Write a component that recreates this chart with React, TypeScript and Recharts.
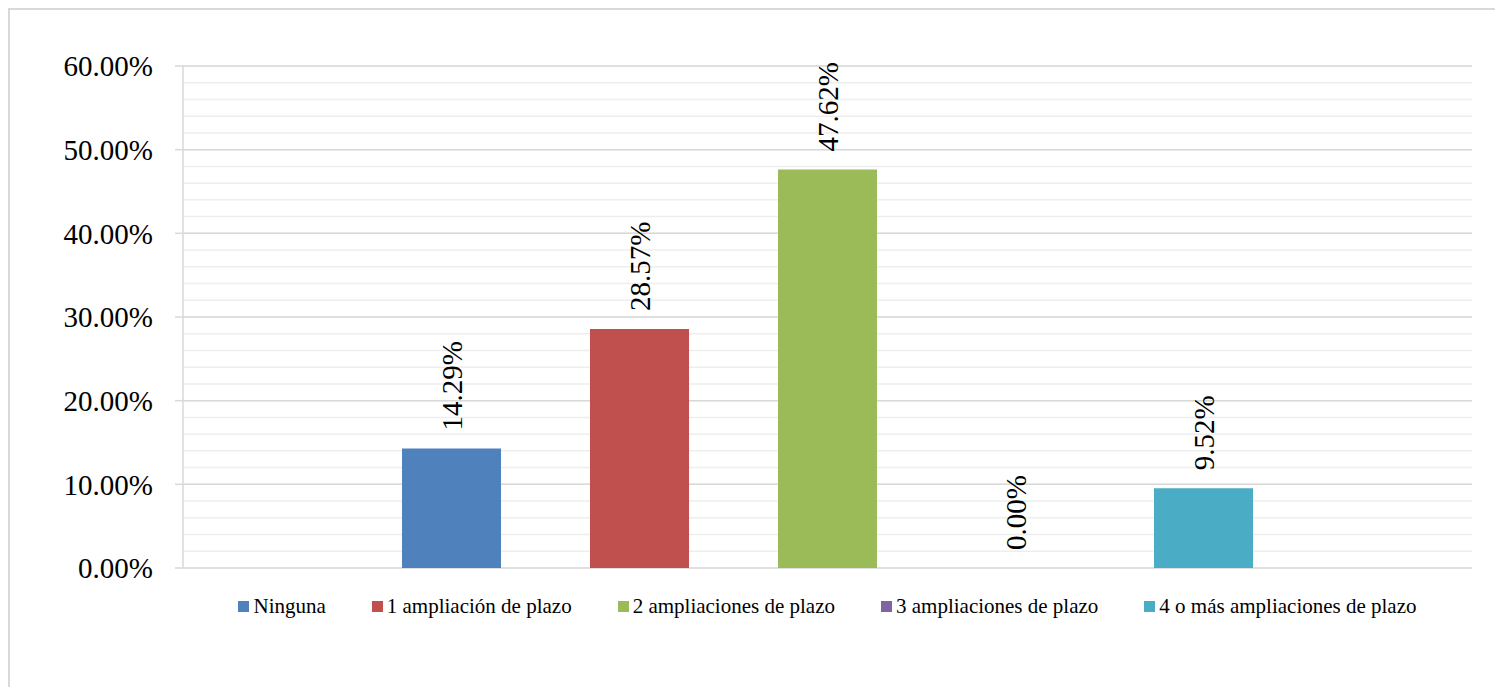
import React from 'react';
import {
  BarChart, Bar, XAxis, YAxis, CartesianGrid, Legend, LabelList, Text
} from 'recharts';

const seriesNames = [
  'Ninguna',
  '1 ampliación de plazo',
  '2 ampliaciones de plazo',
  '3 ampliaciones de plazo',
  '4 o más ampliaciones de plazo',
];
const seriesValues = [14.29, 28.57, 47.62, 0.0, 9.52];
const seriesColors = ['#4F81BD', '#C0504D', '#9BBB59', '#8064A2', '#4BACC6'];

const majorTicks = [0, 10, 20, 30, 40, 50, 60];
const minorTicks = [
  0, 2, 4, 6, 8, 10, 12, 14, 16, 18, 20, 22, 24, 26, 28, 30,
  32, 34, 36, 38, 40, 42, 44, 46, 48, 50, 52, 54, 56, 58, 60,
];

const FONT = '"Liberation Serif", "Times New Roman", serif';

// one category row, one key per series
const rows = [
  seriesNames.reduce<Record<string, number | string>>((row, _n, i) => {
    row[`s${i}`] = seriesValues[i];
    return row;
  }, { name: '' }),
];

const pct = (v: number) => `${Number(v).toFixed(2)}%`;

// value written upwards, starting a little above the bar top
const renderVerticalLabel = (props: any) => {
  const { x, y, width, value } = props;
  const cx = Number(x) + Number(width) / 2;
  const ty = Number(y) - 18;
  return (
    <Text
      x={cx}
      y={ty}
      angle={-90}
      textAnchor="start"
      verticalAnchor="middle"
      fill="#000"
      fontFamily={FONT}
      fontSize={29}
    >
      {pct(value)}
    </Text>
  );
};

const LegendRow = () => (
  <div style={{
    display: 'flex', justifyContent: 'center', alignItems: 'center',
    height: 24, gap: 46, fontFamily: FONT, fontSize: 21, color: '#000',
    whiteSpace: 'nowrap',
  }}>
    {seriesNames.map((name, i) => (
      <div key={name} style={{ display: 'flex', alignItems: 'center' }}>
        <span style={{ width: 11, height: 11, background: seriesColors[i], marginRight: 4, display: 'inline-block' }} />
        <span>{name}</span>
      </div>
    ))}
  </div>
);

// minor lines every 2%, mapped through the y axis scale
const minorLines = ({ yAxis }: any) => {
  const s = yAxis && yAxis.scale;
  if (typeof s === 'function') return minorTicks.map((t) => s(t));
  if (s && typeof s.map === 'function') return minorTicks.map((t) => s.map(t));
  return [];
};

export default function App() {
  return (
    <div style={{
      position: 'relative', width: 1495, height: 679, boxSizing: 'border-box',
      borderTop: '2px solid #d9d9d9', borderLeft: '2px solid #d9d9d9',
      background: '#fff', overflow: 'hidden',
    }}>
      <BarChart
        width={1493}
        height={677}
        data={rows}
        margin={{ top: 56, right: 31, bottom: 95, left: 0 }}
        barSize={99}
        barGap={89}
      >
        <XAxis dataKey="name" hide />
        <YAxis
          domain={[0, 60]}
          ticks={majorTicks}
          width={173}
          tickFormatter={pct}
          tickSize={8}
          tickMargin={22}
          axisLine={{ stroke: '#d9d9d9', strokeWidth: 1.5 }}
          tickLine={{ stroke: '#d9d9d9', strokeWidth: 1.5 }}
          tick={{ fill: '#000', fontFamily: FONT, fontSize: 29 }}
          interval={0}
        />
        <CartesianGrid
          vertical={false}
          stroke="#eeeeee"
          strokeWidth={1.5}
          horizontalCoordinatesGenerator={minorLines}
        />
        <CartesianGrid vertical={false} stroke="#d9d9d9" strokeWidth={1.5} />
        <Legend
          content={<LegendRow />}
          verticalAlign="bottom"
          wrapperStyle={{ top: 584, bottom: 'auto', left: 173, width: 1289, height: 24 }}
        />
        {seriesNames.map((name, i) => (
          <Bar
            key={name}
            dataKey={`s${i}`}
            name={name}
            fill={seriesColors[i]}
            minPointSize={0.01}
            isAnimationActive={false}
          >
            <LabelList dataKey={`s${i}`} content={renderVerticalLabel} />
          </Bar>
        ))}
      </BarChart>
    </div>
  );
}
